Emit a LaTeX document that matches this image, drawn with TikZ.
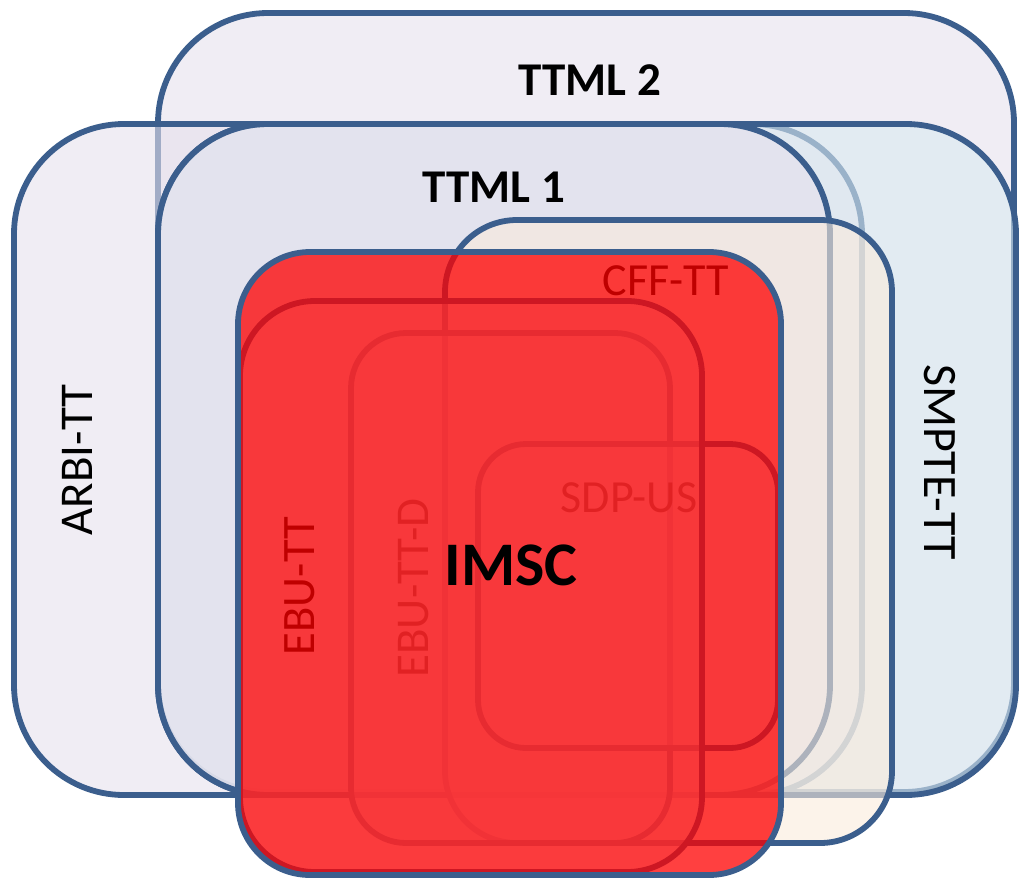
\documentclass[tikz,border=0pt]{standalone}
\usepackage{fontspec}
\setmainfont{Carlito}
\definecolor{edge}{RGB}{59,94,141}
\definecolor{lav}{RGB}{230,225,237}
\definecolor{sky}{RGB}{218,234,242}
\definecolor{cream}{RGB}{250,235,220}
\tikzset{
  box/.style={draw=edge, line width=5.8pt, fill opacity=0.6, text opacity=1,
    rounded corners=110pt, inner sep=0pt, outer sep=0pt},
  smallbox/.style={box, rounded corners=72pt},
  lbl/.style={inner sep=0pt, outer sep=0pt, text opacity=1, fill opacity=1,
    font=\fontsize{47pt}{50pt}\selectfont},
  blbl/.style={lbl, font=\fontsize{47pt}{50pt}\selectfont\bfseries},
}
\begin{document}
\begin{tikzpicture}[x=1pt,y=-1pt]
\fill[white] (0,0) rectangle (1019,881);
\useasboundingbox (0,0) rectangle (1019,881);
% TTML 2
\node[box, fill=lav, minimum width=856pt, minimum height=779pt] (ttml2) at (586,402.5) {};
\node[blbl] (lttml2) at (590,80) {TTML 2};
% ARBI-TT
\node[box, fill=lav, minimum width=848pt, minimum height=671pt] (arbi) at (438,459.5) {};
\node[lbl, rotate=90] (larbi) at (77,460) {ARBI-TT};
% SMPTE-TT
\node[box, fill=sky, minimum width=858pt, minimum height=671pt] (smpte) at (587,459.5) {};
\node[lbl, rotate=-90, font=\fontsize{48pt}{50pt}\selectfont] (lsmpte) at (940,462) {SMPTE-TT};
% TTML 1
\node[box, fill=lav, minimum width=672pt, minimum height=671pt] (ttml1) at (494,459.5) {};
\node[blbl] (lttml1) at (494,187) {TTML 1};
% CFF-TT
\node[smallbox, fill=cream, minimum width=447pt, minimum height=623pt] (cff) at (668.5,531.5) {};
\node[lbl, font=\fontsize{46pt}{50pt}\selectfont] (lcff) at (666,281) {CFF-TT};
% EBU-TT-D
\node[box, rounded corners=55pt, fill=lav, minimum width=319pt, minimum height=510pt] (ebud) at (510.5,588) {};
\node[lbl, rotate=90] (lebud) at (414,588) {EBU-TT-D};
% SDP-US
\node[box, rounded corners=48pt, fill=lav, minimum width=300pt, minimum height=304pt] (sdp) at (628,596) {};
\node[lbl, font=\fontsize{46pt}{50pt}\selectfont] (lsdp) at (629,498) {SDP-US};
% EBU-TT
\node[box, rounded corners=75pt, fill=lav, minimum width=462pt, minimum height=571pt] (ebu) at (471,586.5) {};
\node[lbl, rotate=90, font=\fontsize{46.5pt}{50pt}\selectfont] (lebu) at (300,586) {EBU-TT};
% IMSC
\node[smallbox, fill=red, fill opacity=0.75, minimum width=543pt, minimum height=623pt] (imsc) at (509.5,563.5) {};
\node[blbl, font=\fontsize{62pt}{66pt}\selectfont\bfseries] (limsc) at (511,565) {IMSC};
\end{tikzpicture}
\end{document}
